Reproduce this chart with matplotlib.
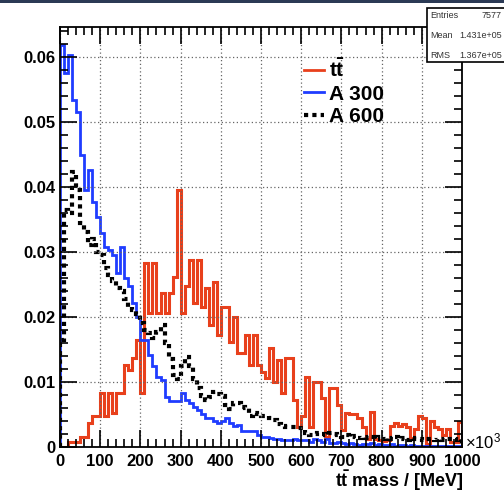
import numpy as np
import matplotlib
matplotlib.use('Agg')
import matplotlib.pyplot as plt
from matplotlib.lines import Line2D
from matplotlib.patches import Rectangle
from matplotlib.ticker import MultipleLocator

plt.rcParams['font.family'] = ['Liberation Sans', 'DejaVu Sans']
plt.rcParams['mathtext.fontset'] = 'custom'
plt.rcParams['mathtext.rm'] = 'Liberation Sans'
plt.rcParams['mathtext.bf'] = 'Liberation Sans:bold'

# 100 bins, x in units of 10^3 MeV
bin_edges = np.linspace(0, 1000, 101)

ttbar = [0, 0, 0.0008, 0.0008, 0.0008, 0.0016, 0.0016, 0.0037, 0.0047, 0.0047,
         0.0083, 0.0047, 0.0083, 0.0052, 0.0083, 0.0083, 0.0126, 0.0118, 0.0137, 0.0165,
         0.0083, 0.0283, 0.0206, 0.0283, 0.0206, 0.0237, 0.0206, 0.0237, 0.0262, 0.0395,
         0.0206, 0.0247, 0.0288, 0.0222, 0.0288, 0.0216, 0.0245, 0.0188, 0.0254, 0.0172,
         0.0216, 0.0216, 0.0162, 0.0200, 0.0145, 0.0145, 0.0172, 0.0126, 0.0172, 0.0126,
         0.0116, 0.0106, 0.0152, 0.0100, 0.0134, 0.0083, 0.0137, 0.0137, 0.0072, 0.0030,
         0.0047, 0.0108, 0.0030, 0.0100, 0.0100, 0.0075, 0.0016, 0.0090, 0.0090, 0.0064,
         0.0026, 0.0052, 0.0050, 0.0050, 0.0045, 0.0030, 0.0012, 0.0054, 0.0012, 0.0011,
         0.0009, 0.0010, 0.0033, 0.0037, 0.0033, 0.0035, 0.0030, 0.0014, 0.0028, 0.0047,
         0.0045, 0.0005, 0.0040, 0.0030, 0.0028, 0.0018, 0.0028, 0.0008, 0.0008, 0.0038]

a300 = [0.0618, 0.0575, 0.0603, 0.0534, 0.0516, 0.0449, 0.0395, 0.0426, 0.0377, 0.0354,
        0.0329, 0.0308, 0.0303, 0.0295, 0.0268, 0.0308, 0.0260, 0.0247, 0.0221, 0.0200,
        0.0165, 0.0165, 0.0141, 0.0124, 0.0108, 0.0103, 0.0077, 0.0070, 0.0070, 0.0070,
        0.0083, 0.0072, 0.0067, 0.0062, 0.0057, 0.0050, 0.0045, 0.0045, 0.0040, 0.0037,
        0.0040, 0.0045, 0.0037, 0.0033, 0.0034, 0.0024, 0.0024, 0.0024, 0.0024, 0.0018,
        0.0016, 0.0016, 0.0014, 0.0012, 0.0012, 0.0011, 0.0011, 0.0011, 0.0013, 0.0011,
        0.0010, 0.0010, 0.0008, 0.0012, 0.0010, 0.0008, 0.0012, 0.0006, 0.0006, 0.0008,
        0.0006, 0.0004, 0.0006, 0.0005, 0.0003, 0.0005, 0.0004, 0.0006, 0.0003, 0.0004,
        0.0003, 0.0003, 0.0004, 0.0002, 0.0003, 0.0003, 0.0002, 0.0003, 0.0002, 0.0002,
        0.0002, 0.0001, 0.0002, 0.0002, 0.0001, 0.0002, 0.0001, 0.0001, 0.0002, 0.0001]

a600 = [0.0165, 0.0365, 0.0360, 0.0423, 0.0395, 0.0345, 0.0330, 0.0310, 0.0320, 0.0300,
        0.0295, 0.0275, 0.0265, 0.0255, 0.0245, 0.0240, 0.0228, 0.0215, 0.0210, 0.0205,
        0.0190, 0.0180, 0.0175, 0.0168, 0.0177, 0.0188, 0.0160, 0.0135, 0.0110, 0.0105,
        0.0124, 0.0139, 0.0125, 0.0105, 0.0090, 0.0078, 0.0072, 0.0077, 0.0085, 0.0082,
        0.0078, 0.0065, 0.0058, 0.0068, 0.0068, 0.0062, 0.0060, 0.0048, 0.0052, 0.0050,
        0.0047, 0.0047, 0.0045, 0.0042, 0.0036, 0.0032, 0.0031, 0.0031, 0.0030, 0.0029,
        0.0029, 0.0022, 0.0018, 0.0020, 0.0022, 0.0020, 0.0018, 0.0022, 0.0020, 0.0018,
        0.0016, 0.0018, 0.0016, 0.0017, 0.0014, 0.0016, 0.0014, 0.0016, 0.0013, 0.0015,
        0.0012, 0.0014, 0.0013, 0.0015, 0.0012, 0.0014, 0.0011, 0.0014, 0.0012, 0.0013,
        0.0010, 0.0013, 0.0012, 0.0010, 0.0012, 0.0011, 0.0013, 0.0012, 0.0010, 0.0013]

series_labels = [r'$\mathbf{t\bar{t}}$', 'A 300', 'A 600']
stats_names = ['Entries', 'Mean', 'RMS']
stats_values = ['7577', '1.431e+05', '1.367e+05']

red = '#e8401c'
blue = '#1f3cff'
dots = (0, (1, 1))

fig = plt.figure(figsize=(5.04, 4.92), dpi=100)
ax = fig.add_axes([60/504, 45/492, 402/504, 420/492])

ax.stairs(ttbar, bin_edges, color=red, lw=2.2)
ax.stairs(a300, bin_edges, color=blue, lw=2)
ax.stairs(a600, bin_edges, color='black', lw=3, linestyle=dots)

ax.set_xlim(0, 1000)
ax.set_ylim(0, 0.0646)
ax.set_xticks(np.arange(0, 1001, 100))
ax.set_yticks([0, 0.01, 0.02, 0.03, 0.04, 0.05, 0.06])
ax.set_yticklabels(['0', '0.01', '0.02', '0.03', '0.04', '0.05', '0.06'])
ax.xaxis.set_minor_locator(MultipleLocator(20))
ax.yaxis.set_minor_locator(MultipleLocator(0.002))
ax.tick_params(which='both', direction='in', top=True, right=True, width=1.2)
ax.tick_params(which='major', length=12, labelsize=12)
ax.tick_params(which='minor', length=6)
ax.tick_params(axis='x', pad=5)
ax.tick_params(axis='y', pad=3)
for lab in ax.get_xticklabels() + ax.get_yticklabels():
    lab.set_fontweight('bold')
ax.grid(True, which='major', linestyle=(0, (1, 2)), color='#666666', lw=0.9)
for sp in ax.spines.values():
    sp.set_linewidth(1.3)

fig.text(463/504, 1 - 487/492, r'$\mathbf{t\bar{t}}$ mass / [MeV]', ha='right', va='baseline',
         fontsize=13, fontweight='bold')
fig.text(465/504, 1 - 441/492, r'×$\mathregular{10^{3}}$', ha='left', va='center', fontsize=12)

handles = [Line2D([], [], color=red, lw=2),
           Line2D([], [], color=blue, lw=2),
           Line2D([], [], color='black', lw=3, linestyle=dots)]
fig.legend(handles, series_labels, loc='upper left', bbox_to_anchor=(296/504, 1 - 50/492),
           frameon=False, prop={'size': 15, 'weight': 'bold'}, handlelength=0.95,
           handletextpad=0.25, labelspacing=0.18, borderaxespad=0)

# stats box (runs off the right edge)
fig.add_artist(Rectangle((427/504, 1 - 62/492), 0.2, 54/492, transform=fig.transFigure,
                         facecolor='white', edgecolor='black', lw=1.2, zorder=5))
for i, (nm, val) in enumerate(zip(stats_names, stats_values)):
    yy = 1 - (15 + 20*i)/492
    fig.text(430/504, yy, nm, fontsize=6.5, color='#333333', va='center', zorder=6)
    fig.text(502/504, yy, val, fontsize=6.5, color='#333333', va='center', ha='right', zorder=6)

fig.add_artist(Rectangle((0, 1 - 3/492), 1, 3/492, transform=fig.transFigure,
                         facecolor='#2b3a55', edgecolor='none', zorder=7))

fig.savefig('out.png', dpi=100)
